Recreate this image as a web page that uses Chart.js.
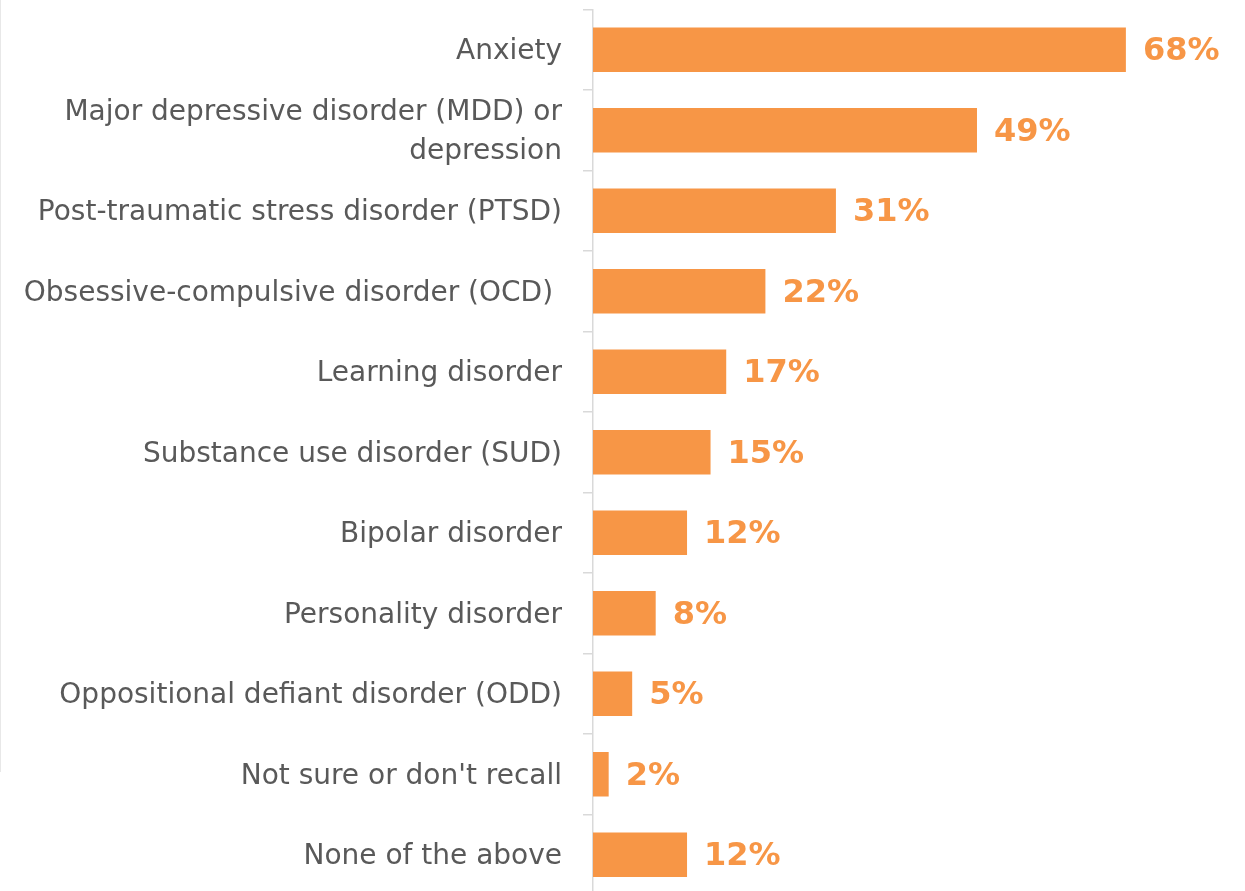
<!DOCTYPE html>
<html lang="en">
<head>
    <meta charset="UTF-8">
    <title>Diagnosed conditions</title>
    <script src="https://cdn.jsdelivr.net/npm/chart.js"></script>
    <style>
        body {
            margin: 0;
            padding: 0;
            background-color: white;
            overflow: hidden;
        }
        .chart-container {
            position: relative;
            width: 1245px;
            height: 896px;
        }
        .edge-line {
            position: absolute;
            left: 0;
            top: 0;
            width: 1px;
            height: 772px;
            background-color: #e8e8e8;
        }
    </style>
</head>
<body>
    <div class="chart-container">
        <canvas id="conditionsChart"></canvas>
        <div class="edge-line"></div>
    </div>

    <script>
        // Categories and values
        const categories = [
            'Anxiety',
            ['Major depressive disorder (MDD) or', 'depression'],
            'Post-traumatic stress disorder (PTSD)',
            'Obsessive-compulsive disorder (OCD) ',
            'Learning disorder',
            'Substance use disorder (SUD)',
            'Bipolar disorder',
            'Personality disorder',
            'Oppositional defiant disorder (ODD)',
            'Not sure or don\'t recall',
            'None of the above'
        ];
        const percentValues = [68, 49, 31, 22, 17, 15, 12, 8, 5, 2, 12];

        const barColor = '#F79646';
        const labelColor = '#595959';
        const axisColor = '#d9d9d9';

        // Draws the "68%" style labels at the end of each bar
        const valueLabels = {
            id: 'valueLabels',
            afterDatasetsDraw(chart) {
                const ctx = chart.ctx;
                const meta = chart.getDatasetMeta(0);
                ctx.save();
                ctx.font = 'bold 32px "DejaVu Sans", Verdana, sans-serif';
                ctx.fillStyle = barColor;
                ctx.textAlign = 'left';
                ctx.textBaseline = 'middle';
                meta.data.forEach((bar, i) => {
                    ctx.fillText(percentValues[i] + '%', bar.x + 17, bar.y + 2);
                });
                ctx.restore();
            }
        };

        const ctx = document.getElementById('conditionsChart').getContext('2d');
        new Chart(ctx, {
            type: 'bar',
            data: {
                labels: categories,
                datasets: [{
                    data: percentValues,
                    backgroundColor: barColor,
                    borderWidth: 0,
                    barPercentage: 0.55,
                    categoryPercentage: 1.0
                }]
            },
            options: {
                indexAxis: 'y',
                responsive: true,
                maintainAspectRatio: false,
                animation: false,
                layout: {
                    padding: { top: 9.5, bottom: 1, left: 0, right: 0 }
                },
                scales: {
                    x: {
                        display: false,
                        min: 0,
                        max: 83.2
                    },
                    y: {
                        afterFit: (scale) => {
                            // fixed axis width, no extra room for the label overhang
                            scale.width = 593;
                            scale.paddingTop = 0;
                            scale.paddingBottom = 0;
                        },
                        grid: {
                            drawOnChartArea: false,
                            drawTicks: true,
                            tickLength: 10,
                            color: axisColor,
                            lineWidth: 1.5
                        },
                        border: {
                            display: true,
                            color: axisColor,
                            width: 1.5
                        },
                        ticks: {
                            color: labelColor,
                            padding: 21,
                            labelOffset: 2,
                            font: {
                                family: '"DejaVu Sans", Verdana, sans-serif',
                                size: 28,
                                lineHeight: 1.36
                            }
                        }
                    }
                },
                plugins: {
                    legend: { display: false },
                    tooltip: { enabled: false }
                }
            },
            plugins: [valueLabels]
        });
    </script>
</body>
</html>
